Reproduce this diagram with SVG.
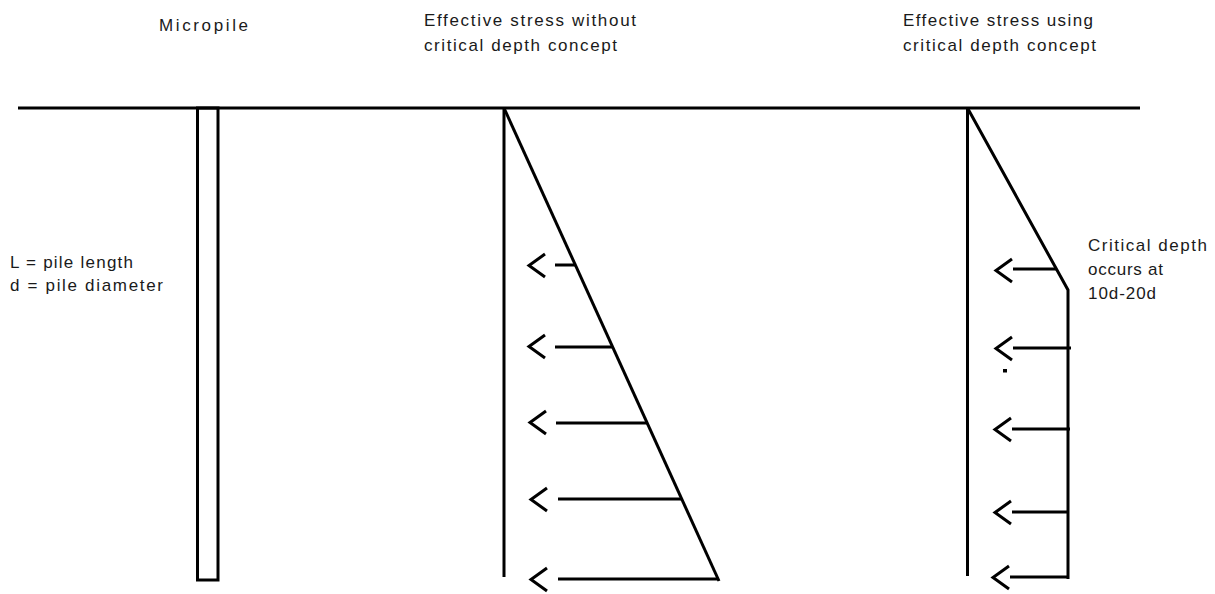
<svg xmlns="http://www.w3.org/2000/svg" width="1215" height="594" viewBox="0 0 1215 594">
  <style>
    .ln { stroke: #000; stroke-width: 3; fill: none; stroke-linecap: butt; }
    .chev { stroke: #000; stroke-width: 3; fill: none; stroke-linejoin: miter; }
    .t { font-family: "Liberation Sans", Arial, sans-serif; font-size: 17px; fill: #1a1a1a; }
  </style>
  <rect width="1215" height="594" fill="#fff"/>

  <g id="ground">
    <line class="ln" x1="18" y1="108" x2="1140" y2="108" stroke-width="3.5"/>
  </g>

  <g id="micropile">
    <rect class="ln" x="197.5" y="108" width="20.5" height="472"/>
    <text class="t" x="159" y="31" textLength="89" lengthAdjust="spacing">Micropile</text>
  </g>

  <g id="pile-legend">
    <text class="t" x="10" y="268" textLength="123" lengthAdjust="spacing">L = pile length</text>
    <text class="t" x="10" y="291" textLength="153" lengthAdjust="spacing">d = pile diameter</text>
  </g>

  <g id="stress-without">
    <text class="t" x="424" y="26" textLength="212" lengthAdjust="spacing">Effective stress without</text>
    <text class="t" x="424" y="51" textLength="193" lengthAdjust="spacing">critical depth concept</text>
    <line class="ln" x1="504" y1="108" x2="504" y2="577"/>
    <line class="ln" x1="504" y1="108" x2="719" y2="581" stroke-width="2.7"/>
  </g>

  <g id="stress-with">
    <text class="t" x="903" y="26" textLength="190" lengthAdjust="spacing">Effective stress using</text>
    <text class="t" x="903" y="51" textLength="193" lengthAdjust="spacing">critical depth concept</text>
    <line class="ln" x1="967.5" y1="108" x2="967.5" y2="576"/>
    <polyline class="ln" points="967.5,108 1068,290 1068,579" stroke-width="3"/>
    <text class="t" x="1088" y="251" textLength="119" lengthAdjust="spacing">Critical depth</text>
    <text class="t" x="1088" y="275" textLength="75" lengthAdjust="spacing">occurs at</text>
    <text class="t" x="1088" y="299" textLength="68" lengthAdjust="spacing">10d-20d</text>
    <rect x="1003" y="369" width="4" height="3.5" fill="#000"/>
  </g>

  <g id="connectors">
    <line class="ln" x1="555" y1="265" x2="576" y2="265"/>
    <line class="ln" x1="555" y1="347" x2="613" y2="347"/>
    <line class="ln" x1="556" y1="423" x2="647" y2="423"/>
    <line class="ln" x1="558" y1="499" x2="682" y2="499"/>
    <line class="ln" x1="558" y1="579" x2="719" y2="579"/>
    <polyline class="chev" points="545,254 529,265.5 545,277"/>
    <polyline class="chev" points="545,335 529,346.5 545,358"/>
    <polyline class="chev" points="546,411 530,422.5 546,434"/>
    <polyline class="chev" points="547,488 531,499.5 547,511"/>
    <polyline class="chev" points="547,568 531,579.5 547,591"/>
    <line class="ln" x1="1013" y1="269" x2="1057" y2="269"/>
    <line class="ln" x1="1013" y1="348" x2="1071" y2="348"/>
    <line class="ln" x1="1012" y1="429" x2="1070" y2="429"/>
    <line class="ln" x1="1012" y1="512" x2="1068" y2="512"/>
    <line class="ln" x1="1010" y1="577" x2="1068" y2="577"/>
    <polyline class="chev" points="1012,259 996,270.5 1012,282"/>
    <polyline class="chev" points="1012,337 996,348.5 1012,360"/>
    <polyline class="chev" points="1011,418 995,429.5 1011,441"/>
    <polyline class="chev" points="1011,501 995,512.5 1011,524"/>
    <polyline class="chev" points="1009,566 993,577.5 1009,589"/>
  </g>
</svg>
